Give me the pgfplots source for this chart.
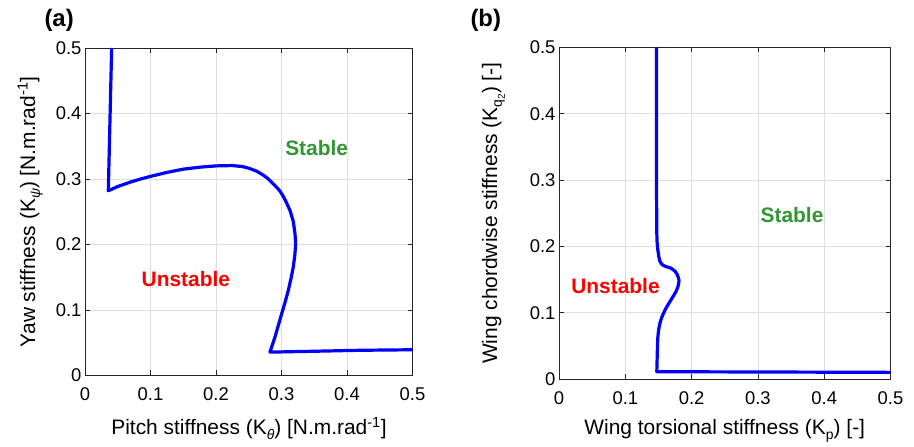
\documentclass[border=0pt]{standalone}
\usepackage{pgfplots}
\pgfplotsset{compat=1.18}
\usepackage{fontspec}
\setmainfont{Liberation Sans}
\definecolor{mblue}{RGB}{0,0,255}
\definecolor{mgreen}{RGB}{50,150,50}
\definecolor{mred}{RGB}{255,0,0}
\definecolor{mgrid}{RGB}{222,222,222}
\definecolor{maxis}{RGB}{38,38,38}
\newcommand{\msub}[1]{\raisebox{-0.45ex}{\fontsize{14}{16}\selectfont #1}}
\pgfplotsset{mystyle/.style={
  scale only axis,
  xmin=0,xmax=0.5,ymin=0,ymax=0.5,
  xtick={0,0.1,0.2,0.3,0.4,0.5}, ytick={0,0.1,0.2,0.3,0.4,0.5},
  xticklabels={0,0.1,0.2,0.3,0.4,0.5}, yticklabels={0,0.1,0.2,0.3,0.4,0.5},
  /pgf/number format/assume math mode=true,
  grid=major, major grid style={mgrid, line width=0.8bp},
  axis line style={maxis, line width=0.8bp},
  tick style={maxis, line width=0.8bp},
  tick align=inside, major tick length=5bp,
  ticklabel style={font=\fontsize{18.5}{20}\selectfont, text=black},
  xticklabel style={yshift=-9bp},
}}
\begin{document}
\begin{tikzpicture}[x=1bp,y=1bp]
\path[use as bounding box] (0,0) rectangle (914,447);
% (a)
\begin{axis}[mystyle, at={(85bp,71.5bp)}, anchor=south west, width=327.5bp, height=327.5bp]
\addplot[mblue, line width=3.2bp, line join=round, mark=none] coordinates {
(0.0407,0.5) (0.0356,0.282) (0.05,0.2885) (0.07,0.2955) (0.085,0.300) (0.1,0.304) (0.125,0.310) (0.15,0.315)
(0.175,0.318) (0.2,0.320) (0.225,0.3205) (0.24,0.319) (0.25,0.3165) (0.262,0.312) (0.272,0.306) (0.28,0.300) (0.287,0.293) (0.293,0.287) (0.298,0.281)
(0.303,0.273) (0.307,0.265) (0.313,0.252) (0.318,0.235) (0.3206,0.2166) (0.3216,0.2013)
(0.3205,0.185) (0.318,0.1656) (0.3145,0.148) (0.3104,0.130) (0.3055,0.112) (0.3003,0.0943) (0.295,0.076)
(0.290,0.0586) (0.2824,0.0357) (0.35,0.037) (0.42,0.0385) (0.5,0.0393)
};
\node[font=\fontsize{21}{24}\selectfont\bfseries, text=mgreen] at (axis cs:0.3537,0.3473) {Stable};
\node[font=\fontsize{21}{24}\selectfont\bfseries, text=mred] at (axis cs:0.154,0.148) {Unstable};
\end{axis}
% (b)
\begin{axis}[mystyle, at={(559bp,68bp)}, anchor=south west, width=331.5bp, height=331.5bp]
\addplot[mblue, line width=3.2bp, line join=round, mark=none] coordinates {
(0.147,0.5) (0.147,0.3) (0.1475,0.22) (0.148,0.205) (0.149,0.195) (0.1505,0.185) (0.152,0.178) (0.155,0.173)
(0.159,0.1705) (0.163,0.169) (0.168,0.1675) (0.172,0.165) (0.1755,0.162) (0.178,0.158) (0.1798,0.1535) (0.181,0.149) (0.1805,0.144) (0.179,0.138) (0.1765,0.132) (0.173,0.126)
(0.169,0.1195) (0.165,0.113) (0.1612,0.1065) (0.158,0.1) (0.155,0.093) (0.153,0.087) (0.1513,0.08) (0.150,0.072) (0.149,0.062) (0.1485,0.05) (0.148,0.03)
(0.1475,0.011) (0.5,0.01)
};
\node[font=\fontsize{21}{24}\selectfont\bfseries, text=mgreen] at (axis cs:0.3514,0.248) {Stable};
\node[font=\fontsize{21}{24}\selectfont\bfseries, text=mred] at (axis cs:0.0852,0.140) {Unstable};
\end{axis}
% labels
\node[anchor=base west, font=\fontsize{24}{28}\selectfont\bfseries] at (41,420) {(a)};
\node[anchor=base west, font=\fontsize{24}{28}\selectfont\bfseries] at (467,420) {(b)};
\node[anchor=base, font=\fontsize{21}{24}\selectfont] at (249,12) {Pitch stiffness (K\msub{\itshape θ}) [N.m.rad\textsuperscript{-1}]};
\node[anchor=base, font=\fontsize{21}{24}\selectfont] at (724.75,12) {Wing torsional stiffness (K\msub{p}) [-]};
\node[anchor=base, rotate=90, font=\fontsize{21}{24}\selectfont] at (35,235.25) {Yaw stiffness (K\msub{\itshape ψ}) [N.m.rad\textsuperscript{-1}]};
\node[anchor=base, rotate=90, font=\fontsize{21}{24}\selectfont] at (497,233.75) {Wing chordwise stiffness (K\msub{q\raisebox{-0.4ex}{\fontsize{10}{12}\selectfont 2}}) [-]};
\end{tikzpicture}
\end{document}
